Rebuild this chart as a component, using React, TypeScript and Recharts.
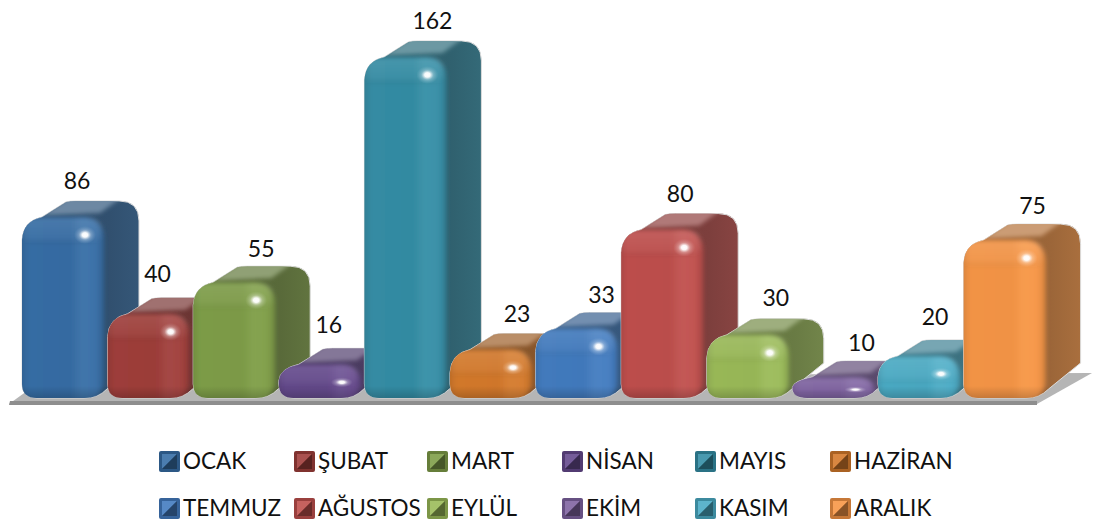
import { BarChart, Bar, XAxis, YAxis, LabelList, Legend } from "recharts";

const months = ["OCAK", "ŞUBAT", "MART", "NİSAN", "MAYIS", "HAZİRAN", "TEMMUZ", "AĞUSTOS", "EYLÜL", "EKİM", "KASIM", "ARALIK"];
const counts = [86, 40, 55, 16, 162, 23, 33, 80, 30, 10, 20, 75];
const colors = ["#376EA6", "#A03E3B", "#7F9E48", "#664A8E", "#358EA6", "#D57A2C", "#437CC0", "#C0504D", "#9BBB59", "#8064A2", "#4BACC6", "#F79646"];

// label nudges, the original placed them a bit unevenly
const labelDx = [55, 50, 68, 50, 68, 67, 66, 59, 69, 69, 57, 69];
const labelDy = [-21, -25, -18, -24, -21, -21, -19, -21, -22, -19, -24, -19];
const legendX = [159, 294, 427, 562, 695, 830];

const rows = months.map((month, i) => ({ month, count: counts[i] }));

const FONT = "Lato, 'Open Sans', sans-serif";
const DEPTH_X = 32;
const DEPTH_Y = 16;
const FRONT_W = 80;

const mix = (hex: string, target: number, t: number) => {
  const n = parseInt(hex.slice(1), 16);
  const parts = [(n >> 16) & 255, (n >> 8) & 255, n & 255];
  return "#" + parts.map((p) => Math.round(p + (target - p) * t).toString(16).padStart(2, "0")).join("");
};

const Bar3D = (props: any) => {
  const { x, y, height, index } = props;
  const base = y + height;
  const c = colors[index];
  const sideBase = mix(c, 128, 0.2);
  const rt = Math.min(23, height * 0.5);
  const rb = Math.min(14, height * 0.5);
  const rr = Math.min(20, height * 0.45);
  const backY = y - DEPTH_Y;
  const rightX = x + 85 + DEPTH_X;
  const rightLow = Math.max(base - 35, backY + rr);

  const outline = `M${x} ${base - rb} L${x} ${y + rt} Q${x + 1} ${y + 4} ${x + 20} ${y}
    L${x + 44} ${backY + 1} Q${x + 48} ${backY} ${x + 54} ${backY} L${rightX - 20} ${backY} Q${rightX} ${backY} ${rightX} ${backY + rr}
    L${rightX} ${rightLow} L${x + 85} ${base - 9} Q${x + 76} ${base} ${x + 62} ${base}
    L${x + 15} ${base} Q${x} ${base} ${x} ${base - rb} Z`;
  const topFace = `M${x + 18} ${y - 1} L${x + 46} ${backY - 3} L${rightX - 18} ${backY - 3} L${x + 78} ${y - 4} Z`;
  const glowY = y + Math.min(18, height * 0.6);

  return (
    <g>
      <defs>
        <clipPath id={`clip${index}`}>
          <path d={outline} />
        </clipPath>
        <filter id={`soft${index}`} x="-20%" y="-20%" width="140%" height="140%">
          <feGaussianBlur stdDeviation="2" />
        </filter>
        <linearGradient id={`side${index}`} x1="0" y1="0" x2="1" y2="0">
          <stop offset="0" stopColor={mix(sideBase, 0, 0.36)} />
          <stop offset="0.75" stopColor={mix(sideBase, 0, 0.3)} />
          <stop offset="1" stopColor={mix(sideBase, 0, 0.24)} />
        </linearGradient>
        <linearGradient id={`front${index}`} x1="0" y1="0" x2="1" y2="0">
          <stop offset="0" stopColor={mix(c, 0, 0.16)} />
          <stop offset="0.12" stopColor={mix(c, 0, 0.02)} />
          <stop offset="0.62" stopColor={mix(c, 0, 0.03)} />
          <stop offset="0.74" stopColor={mix(c, 255, 0.05)} />
          <stop offset="0.9" stopColor={mix(c, 255, 0.03)} />
          <stop offset="1" stopColor={mix(c, 0, 0.12)} />
        </linearGradient>
        <linearGradient id={`band${index}`} x1="0" y1="0" x2="0" y2="1">
          <stop offset="0" stopColor="#fff" stopOpacity="0.1" />
          <stop offset="0.75" stopColor="#fff" stopOpacity="0.05" />
          <stop offset="1" stopColor="#000" stopOpacity="0.06" />
        </linearGradient>
        <linearGradient id={`foot${index}`} x1="0" y1="0" x2="0" y2="1">
          <stop offset="0" stopColor="#000" stopOpacity="0" />
          <stop offset="1" stopColor="#000" stopOpacity="0.18" />
        </linearGradient>
        <radialGradient id={`glow${index}`}>
          <stop offset="0" stopColor="#fff" />
          <stop offset="0.25" stopColor="#fff" stopOpacity="0.95" />
          <stop offset="0.55" stopColor={mix(c, 255, 0.4)} stopOpacity="0.8" />
          <stop offset="1" stopColor={mix(c, 255, 0.25)} stopOpacity="0" />
        </radialGradient>
      </defs>
      <path d={outline} fill={`url(#side${index})`} stroke="#dcdcdc" strokeWidth={1} />
      <g clipPath={`url(#clip${index})`}>
        <path d={topFace} fill={mix(mix(c, 255, 0.16), 140, 0.42)} filter={`url(#soft${index})`} />
        <rect
          x={x - 4}
          y={y}
          width={FRONT_W + 6}
          height={height + 4}
          rx={20}
          ry={Math.min(20, height * 0.5)}
          fill={`url(#front${index})`}
          filter={`url(#soft${index})`}
        />
        <rect x={x - 2} y={y + 1} width={FRONT_W + 2} height={Math.min(25, height * 0.6)} rx={10} fill={`url(#band${index})`} filter={`url(#soft${index})`} />
        <rect x={x} y={base - Math.min(12, height * 0.4)} width={FRONT_W + 8} height={Math.min(12, height * 0.4)} fill={`url(#foot${index})`} />
        <ellipse cx={x + 63} cy={glowY} rx={11} ry={Math.min(9, height * 0.15)} fill={`url(#glow${index})`} />
      </g>
    </g>
  );
};

const BarLabel = (props: any) => {
  const { x, y, value, index } = props;
  return (
    <text
      x={x + labelDx[index]}
      y={y - DEPTH_Y + labelDy[index]}
      textAnchor="middle"
      dominantBaseline="central"
      fontFamily={FONT}
      fontSize={23}
      fill="#111"
    >
      {value}
    </text>
  );
};

const LegendKey = ({ color, x, y }: { color: string; x: number; y: number }) => (
  <svg width={21} height={21} style={{ position: "absolute", left: x, top: y }}>
    <rect x={0} y={0} width={21} height={21} rx={2} fill={mix(color, 0, 0.2)} />
    <polygon points="3,3 18,3 3,18" fill={mix(color, 255, 0.1)} />
    <polygon points="18,3 18,18 3,18" fill={mix(color, 0, 0.45)} />
  </svg>
);

const MonthLegend = () => (
  <div style={{ position: "relative", width: 1096, height: 82, fontFamily: FONT, fontSize: 22.5, color: "#111" }}>
    {months.map((m, i) => {
      const col = i % 6;
      const top = i < 6 ? 11 : 58;
      return (
        <div key={m}>
          <LegendKey color={colors[i]} x={legendX[col]} y={top} />
          <span style={{ position: "absolute", left: legendX[col] + 24, top: top - 4, lineHeight: "28px", whiteSpace: "nowrap" }}>{m}</span>
        </div>
      );
    })}
  </div>
);

export default function App() {
  return (
    <div style={{ position: "absolute", left: 0, top: 0 }}>
      <BarChart
        width={1096}
        height={522}
        data={rows}
        barCategoryGap={0}
        margin={{ top: 19, right: 46.8, bottom: 124, left: 22 }}
      >
        <XAxis dataKey="month" hide />
        <YAxis domain={[0, 180]} hide />
        <polygon points="9,404 45,378 1092,373 1037,404" fill="#b5b5b5" />
        <polygon points="10,401 1037,401 1037,405 9,405" fill="#8e8e8e" />
        <Legend
          content={<MonthLegend />}
          layout="horizontal"
          verticalAlign="middle"
          wrapperStyle={{ position: "absolute", left: 0, top: 440, width: 1096, height: 82 }}
        />
        <Bar dataKey="count" shape={<Bar3D />} isAnimationActive={false}>
          <LabelList dataKey="count" content={<BarLabel />} />
        </Bar>
      </BarChart>
    </div>
  );
}
